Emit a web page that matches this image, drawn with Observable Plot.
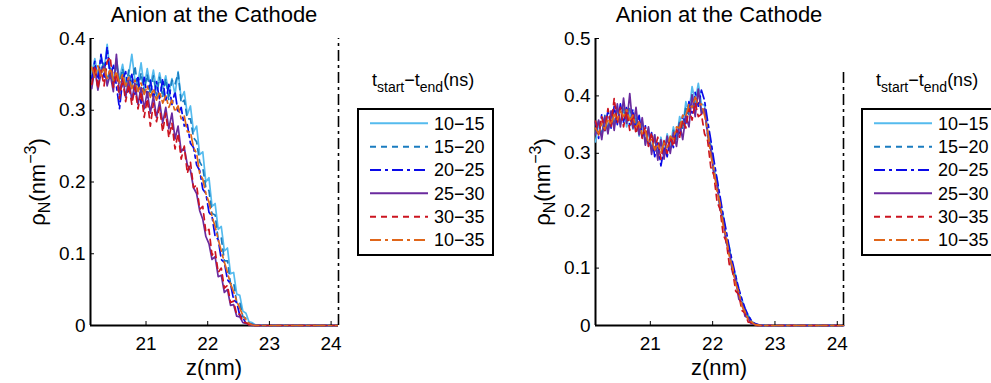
<!DOCTYPE html>
<html><head><meta charset="utf-8">
<script src="https://cdn.jsdelivr.net/npm/d3@7"></script>
<script src="https://cdn.jsdelivr.net/npm/@observablehq/plot@0.6"></script>
<style>
body{margin:0;background:#fff;}
#root{position:relative;width:991px;height:383px;overflow:hidden;font-family:"Liberation Sans",Arial,Helvetica,sans-serif;background:#fff;}
#root svg{position:absolute;top:0;overflow:visible;}
</style></head><body><div id="root"></div>
<script>
// ---------- data ----------
const z = [20.12,20.17,20.22,20.27,20.32,20.37,20.42,20.47,20.52,20.57,
  20.62,20.67,20.72,20.77,20.82,20.87,20.92,20.97,21.02,21.07,
  21.12,21.17,21.22,21.27,21.32,21.37,21.42,21.47,21.52,21.57,
  21.62,21.67,21.72,21.77,21.82,21.87,21.92,21.97,22.02,22.07,
  22.12,22.17,22.22,22.27,22.32,22.37,22.42,22.47,22.52,22.57,
  22.62,22.67,22.72,22.77,22.82,22.9,23.3,23.7,24.1];
const seriesNames = ["10\u221215","15\u221220","20\u221225","25\u221230","30\u221235","10\u221235"];
const xTicks = [21,22,23,24];
const yTicksLeft = [0,0.1,0.2,0.3,0.4];
const yTicksRight = [0,0.1,0.2,0.3,0.4,0.5];
const panelTitle = "Anion at the Cathode";

// left panel series
const left_10_15 = [0.350,0.372,0.348,0.376,0.356,0.392,0.352,0.340,0.372,0.344,
 0.364,0.338,0.350,0.378,0.342,0.340,0.366,0.332,0.358,0.334,
 0.356,0.328,0.352,0.330,0.348,0.324,0.344,0.322,0.354,0.316,
 0.326,0.294,0.306,0.270,0.278,0.238,0.242,0.200,0.206,0.166,
 0.170,0.134,0.138,0.104,0.108,0.072,0.074,0.044,0.042,0.020,
 0.017,0.005,0.004,0.001,0,0,0,0,0];
const left_15_20 = [0.338,0.362,0.334,0.356,0.368,0.340,0.360,0.334,0.366,0.338,
 0.358,0.330,0.356,0.334,0.362,0.328,0.352,0.326,0.350,0.322,
 0.348,0.320,0.346,0.318,0.344,0.314,0.342,0.336,0.352,0.310,
 0.314,0.288,0.288,0.262,0.256,0.228,0.220,0.192,0.188,0.156,
 0.154,0.120,0.122,0.090,0.090,0.058,0.060,0.032,0.032,0.012,
 0.010,0.002,0.002,0,0,0,0,0,0];
const left_20_25 = [0.344,0.368,0.338,0.378,0.346,0.388,0.344,0.364,0.334,0.302,
 0.342,0.354,0.326,0.350,0.322,0.348,0.310,0.346,0.318,0.342,
 0.316,0.340,0.314,0.344,0.312,0.336,0.308,0.326,0.296,0.304,
 0.278,0.280,0.254,0.248,0.224,0.216,0.190,0.184,0.158,0.152,
 0.124,0.120,0.092,0.088,0.064,0.058,0.036,0.032,0.014,0.011,
 0.003,0.003,0.001,0,0,0,0,0,0];
const left_25_30 = [0.330,0.358,0.328,0.352,0.362,0.334,0.350,0.326,0.378,0.322,
 0.348,0.318,0.344,0.314,0.338,0.308,0.332,0.302,0.326,0.296,
 0.320,0.290,0.312,0.282,0.304,0.274,0.296,0.260,0.278,0.242,
 0.248,0.224,0.216,0.192,0.184,0.160,0.148,0.124,0.114,0.092,
 0.096,0.068,0.070,0.046,0.050,0.028,0.029,0.013,0.012,0.004,
 0.003,0.001,0,0,0,0,0,0,0];
const left_30_35 = [0.336,0.362,0.330,0.356,0.334,0.368,0.374,0.332,0.352,0.316,
 0.344,0.312,0.336,0.308,0.332,0.302,0.326,0.290,0.316,0.278,
 0.310,0.284,0.304,0.270,0.296,0.262,0.282,0.246,0.268,0.232,
 0.250,0.212,0.228,0.192,0.196,0.162,0.166,0.130,0.134,0.098,
 0.104,0.074,0.080,0.052,0.056,0.032,0.034,0.015,0.016,0.005,
 0.004,0.001,0,0,0,0,0,0,0];
const left_10_35 = [0.360,0.346,0.362,0.348,0.360,0.344,0.358,0.342,0.354,0.338,
 0.350,0.334,0.346,0.330,0.342,0.326,0.338,0.322,0.334,0.318,
 0.330,0.314,0.326,0.310,0.320,0.304,0.314,0.298,0.306,0.288,
 0.292,0.270,0.270,0.248,0.240,0.212,0.204,0.184,0.172,0.152,
 0.138,0.120,0.104,0.088,0.074,0.058,0.047,0.034,0.024,0.014,
 0.008,0.003,0.001,0,0,0,0,0,0];

// right panel series
const right_10_15 = [0.320,0.352,0.330,0.362,0.338,0.368,0.346,0.378,0.350,0.384,
 0.346,0.374,0.342,0.366,0.330,0.356,0.316,0.344,0.306,0.332,
 0.294,0.328,0.300,0.334,0.310,0.346,0.322,0.364,0.344,0.390,
 0.370,0.416,0.390,0.422,0.386,0.384,0.338,0.316,0.272,0.256,
 0.210,0.192,0.150,0.136,0.098,0.088,0.056,0.046,0.026,0.018,
 0.008,0.004,0.001,0,0,0,0,0,0];
const right_15_20 = [0.334,0.356,0.330,0.366,0.340,0.372,0.348,0.382,0.352,0.378,
 0.354,0.378,0.344,0.362,0.334,0.352,0.324,0.338,0.310,0.324,
 0.300,0.320,0.294,0.326,0.308,0.340,0.324,0.358,0.342,0.382,
 0.366,0.402,0.378,0.410,0.374,0.378,0.330,0.310,0.264,0.250,
 0.202,0.190,0.144,0.134,0.094,0.086,0.050,0.044,0.022,0.016,
 0.005,0.003,0.001,0,0,0,0,0,0];
const right_20_25 = [0.354,0.326,0.368,0.338,0.376,0.344,0.382,0.350,0.386,0.354,
 0.382,0.348,0.376,0.340,0.366,0.328,0.348,0.312,0.336,0.294,
 0.318,0.278,0.310,0.294,0.328,0.310,0.342,0.332,0.366,0.352,
 0.390,0.370,0.406,0.382,0.410,0.392,0.356,0.324,0.288,0.256,
 0.224,0.192,0.164,0.134,0.110,0.086,0.064,0.046,0.030,0.018,
 0.009,0.004,0.002,0,0,0,0,0,0];
const right_25_30 = [0.332,0.358,0.324,0.364,0.334,0.374,0.340,0.386,0.346,0.396,
 0.352,0.404,0.344,0.380,0.332,0.362,0.314,0.346,0.298,0.332,
 0.288,0.324,0.290,0.330,0.300,0.336,0.312,0.352,0.324,0.366,
 0.346,0.402,0.364,0.412,0.368,0.378,0.334,0.306,0.266,0.244,
 0.204,0.182,0.144,0.126,0.092,0.080,0.046,0.040,0.016,0.013,
 0.003,0.002,0,0,0,0,0,0,0];
const right_30_35 = [0.356,0.332,0.364,0.340,0.378,0.346,0.396,0.352,0.380,0.346,
 0.374,0.340,0.368,0.334,0.356,0.326,0.346,0.312,0.336,0.306,
 0.328,0.290,0.322,0.300,0.328,0.312,0.342,0.328,0.358,0.344,
 0.378,0.358,0.388,0.364,0.368,0.334,0.322,0.276,0.262,0.216,
 0.202,0.158,0.146,0.104,0.096,0.060,0.054,0.026,0.022,0.006,
 0.005,0.001,0,0,0,0,0,0,0];
const right_10_35 = [0.344,0.334,0.352,0.342,0.360,0.350,0.368,0.358,0.374,0.364,
 0.376,0.358,0.366,0.346,0.354,0.334,0.340,0.318,0.324,0.306,
 0.316,0.302,0.318,0.310,0.330,0.324,0.346,0.344,0.366,0.364,
 0.386,0.380,0.398,0.384,0.386,0.366,0.340,0.296,0.272,0.234,
 0.212,0.174,0.154,0.118,0.102,0.072,0.058,0.034,0.024,0.010,
 0.007,0.002,0.001,0,0,0,0,0,0];

// boundary (dash-dot vertical line) and its top value per panel
const boundaryLeft = [{z: 24.12, top: 0.4}];
const boundaryRight = [{z: 24.1, top: 0.445}];

// ---------- styles ----------
const colors = ["#55bbee", "#1a7cc0", "#0a0ae8", "#6a2a9e", "#cc1420", "#e0661a"];
const dashes = [null, "6,5", "11,4,3,4", null, "6,5", "11,4,3,4"];
const FONT = '"Liberation Sans", Arial, Helvetica, sans-serif';

const root = document.getElementById("root");

function panel(seriesList, xDomain, yDomain, yTicks, boundary, leftPx) {
  const lineMarks = seriesList.map((vals, k) =>
    Plot.line(vals.map((v, i) => ({z: z[i], v})), {
      x: "z", y: "v", stroke: colors[k], strokeWidth: 1.7,
      strokeDasharray: dashes[k] || undefined, strokeLinejoin: "round"
    }));
  const svg = Plot.plot({
    width: 345, height: 383,
    marginLeft: 90, marginRight: 345 - 90 - 248, marginTop: 38, marginBottom: 58,
    x: {domain: xDomain},
    y: {domain: yDomain},
    style: {fontFamily: FONT, fontSize: "19px", color: "#000", background: "transparent", overflow: "visible"},
    marks: [
      Plot.ruleY([0], {stroke: "#000", strokeWidth: 2}),
      Plot.ruleX([xDomain[0]], {stroke: "#000", strokeWidth: 2}),
      ...lineMarks,
      Plot.ruleX(boundary, {x: "z", y1: () => 0, y2: "top", stroke: "#000", strokeWidth: 1.6, strokeDasharray: "11,4,3,4"}),
      Plot.axisX(xTicks, {tickSize: -4, tickPadding: 15, label: null, stroke: "#000", tickFormat: d => String(d)}),
      Plot.axisY(yTicks, {tickSize: -4, tickPadding: 9, label: null, stroke: "#000", tickFormat: d => String(d)})
    ]
  });
  svg.style.left = leftPx + "px";
  root.appendChild(svg);
  const s = d3.select(svg);
  // title
  s.append("text").attr("x", 90 + 124).attr("y", 22).attr("text-anchor", "middle")
    .attr("font-size", 22).attr("font-family", FONT).attr("fill", "#000").text(panelTitle);
  // x label
  s.append("text").attr("x", 90 + 124).attr("y", 375).attr("text-anchor", "middle")
    .attr("font-size", 22).attr("font-family", FONT).attr("fill", "#000").text("z(nm)");
  // y label
  const t = s.append("text").attr("transform", "translate(45,182) rotate(-90)")
    .attr("text-anchor", "middle").attr("font-size", 22).attr("font-family", FONT).attr("fill", "#000");
  t.append("tspan").text("\u03c1");
  t.append("tspan").attr("font-size", 16).attr("dy", 5).text("N");
  t.append("tspan").attr("dy", -5).text("(nm");
  t.append("tspan").attr("font-size", 16).attr("dy", -9).text("\u22123");
  t.append("tspan").attr("dy", 9).text(")");
}

panel([left_10_15, left_15_20, left_20_25, left_25_30, left_30_35, left_10_35],
      [20.1, 24.12], [0, 0.4], yTicksLeft, boundaryLeft, 0);
panel([right_10_15, right_15_20, right_20_25, right_25_30, right_30_35, right_10_35],
      [20.12, 24.1], [0, 0.5], yTicksRight, boundaryRight, 505);

// ---------- legends ----------
const lg = d3.select(root).append("svg").attr("width", 991).attr("height", 383)
  .style("left", "0px").style("pointer-events", "none");
[358, 862].forEach(bx => {
  const tt = lg.append("text").attr("x", bx + 14).attr("y", 86).attr("font-size", 18)
    .attr("font-family", FONT).attr("fill", "#000");
  tt.append("tspan").text("t");
  tt.append("tspan").attr("font-size", 14).attr("dy", 6).text("start");
  tt.append("tspan").attr("dy", -6).text("\u2212t");
  tt.append("tspan").attr("font-size", 14).attr("dy", 6).text("end");
  tt.append("tspan").attr("dy", -6).text("(ns)");
  lg.append("rect").attr("x", bx).attr("y", 109).attr("width", 135).attr("height", 146)
    .attr("fill", "#fff").attr("stroke", "#000").attr("stroke-width", 2);
  seriesNames.forEach((name, k) => {
    const y = 123.3 + k * 23.35;
    lg.append("line").attr("x1", bx + 12).attr("x2", bx + 70).attr("y1", y).attr("y2", y)
      .attr("stroke", colors[k]).attr("stroke-width", 2)
      .attr("stroke-dasharray", dashes[k] || null);
    lg.append("text").attr("x", bx + 76).attr("y", y).attr("dy", "0.35em")
      .attr("font-size", 18).attr("font-family", FONT).attr("fill", "#000").text(name);
  });
});
</script></body></html>
